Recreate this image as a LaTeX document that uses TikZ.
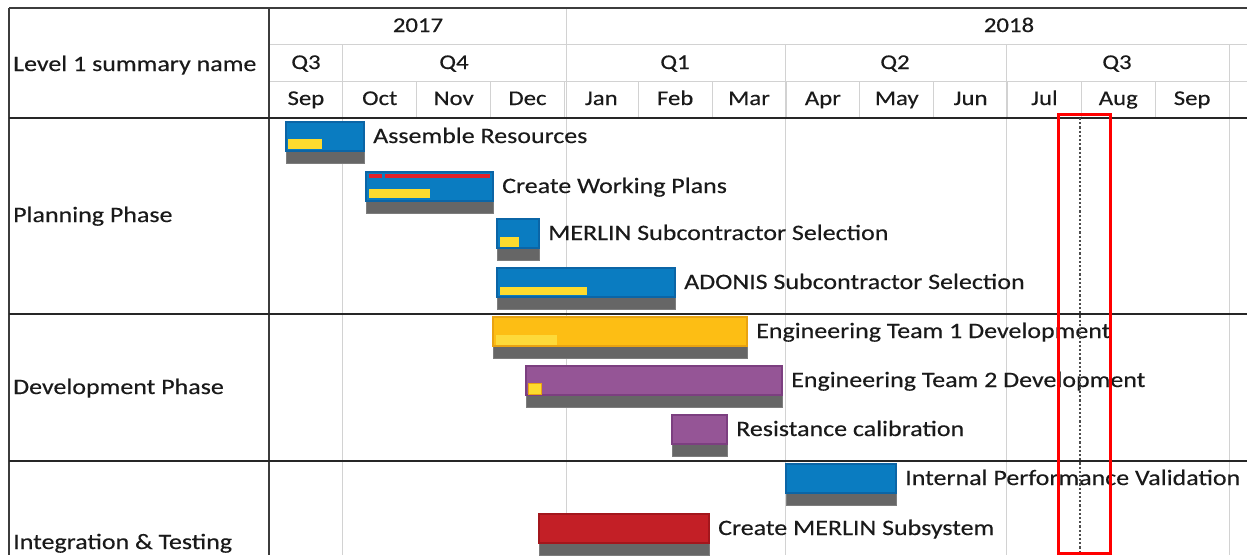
\documentclass[tikz,border=0pt]{standalone}
\usepackage{fontspec}
\setmainfont{Carlito}[FakeStretch=1.18, FakeBold=0.3]
\definecolor{framegray}{HTML}{3C3C3C}
\definecolor{gridgray}{HTML}{D2D2D2}
\definecolor{basegray}{HTML}{666666}
\definecolor{dotgray}{HTML}{4D4D4D}
\definecolor{inkgray}{HTML}{1A1A1A}
\definecolor{taskblue}{HTML}{0A7CC1}
\definecolor{edgeblue}{HTML}{0B65A6}
\definecolor{progyellow}{HTML}{FDDB2E}
\definecolor{taskorange}{HTML}{FDBE14}
\definecolor{edgeorange}{HTML}{E9A311}
\definecolor{progpale}{HTML}{FDDA3A}
\definecolor{taskpurple}{HTML}{955596}
\definecolor{edgepurple}{HTML}{7C3F80}
\definecolor{taskred}{HTML}{C31F26}
\definecolor{edgered}{HTML}{A3161C}
\definecolor{slipred}{HTML}{E0202A}
\definecolor{markred}{HTML}{FF0000}

\tikzset{
  gridline/.style={draw=gridgray, line width=0.8pt},
  frameline/.style={draw=framegray, line width=1.3pt},
  phaseline/.style={draw=black!85, line width=2.2pt},
  txt/.style={inner sep=0pt, text depth=0pt, text=inkgray},
  hdr/.style={txt, anchor=base, font=\fontsize{21}{25}\selectfont},
  lbl/.style={txt, anchor=base west, font=\fontsize{22}{26}\selectfont},
  progress/.style={fill=progyellow},
}

% one task: colored bar, grey base strip, label to the right
% #1 name, #2 start x, #3 end x, #4 top y, #5 fill, #6 edge, #7 text
\newcommand\ganttbar[7]{%
  \path[draw=basegray!85!white, fill=basegray, line width=0.6pt]
    (#2,{#4+29}) rectangle (#3,{#4+41});
  \path[draw=#6, fill=#5, line width=1.2pt] (#2,#4) rectangle (#3,{#4+29});
  \node[lbl] (#1) at ({#3+9},{#4+21}) {#7};
}

\begin{document}
\begin{tikzpicture}[x=1pt, y=-1pt]
\useasboundingbox (0,0) rectangle (1247,555);
\fill[white] (0,0) rectangle (1247,555);

% ---- header grid ----
\path[gridline] (269,44.5) -- (1247,44.5) (269,81.5) -- (1247,81.5);
% year row
\path[gridline] (566,8) -- (566,44.5);
% quarter row
\foreach \q in {342,566,785,1006,1229} \path[gridline] (\q,44.5) -- (\q,118);
% month row
\foreach \m in {1,...,13} \path[gridline] ({269+73.85*\m},81.5) -- ({269+73.85*\m},118);

% body grid at quarter boundaries
\foreach \q in {342,566,785,1006,1229} \path[gridline] (\q,118) -- (\q,555);

% ---- frame ----
\path[frameline] (9,8) -- (1247,8);
\path[frameline] (9,8) -- (9,555);
\path[frameline] (269,8) -- (269,555);
\path[draw=black!85, line width=1.6pt] (9,118) -- (1247,118);
\path[phaseline] (9,314) -- (1247,314);
\path[phaseline] (9,461) -- (1247,461);

% ---- header text ----
\node[lbl] (colname) at (13,71) {Level 1 summary name};
\node[hdr] (y2017) at (418,32) {2017};
\node[hdr] (y2018) at (1009,32) {2018};
\node[hdr] (q3a) at (306,69) {Q3};
\node[hdr] (q4) at (454,69) {Q4};
\node[hdr] (q1) at (675,69) {Q1};
\node[hdr] (q2) at (895,69) {Q2};
\node[hdr] (q3b) at (1117,69) {Q3};
\foreach \mo [count=\i from 0] in {Sep,Oct,Nov,Dec,Jan,Feb,Mar,Apr,May,Jun,Jul,Aug,Sep}
  \node[hdr] (month\i) at ({269+73.85*(\i+0.5)},105) {\mo};

% ---- phase names ----
\node[lbl] (planning) at (13,222) {Planning Phase};
\node[lbl] (development) at (13,394) {Development Phase};
\node[lbl] (integration) at (13,549) {Integration \& Testing};

% ---- tasks ----
\ganttbar{assemble}{286}{364}{122}{taskblue}{edgeblue}{Assemble Resources}
\fill[progress] (288,139) rectangle (322,149);

\ganttbar{plans}{366}{493}{172}{taskblue}{edgeblue}{Create Working Plans}
\fill[slipred] (369,174) rectangle (382,177.5);
\fill[slipred] (385,174) rectangle (490,177.5);
\fill[progress] (369,189) rectangle (430,198);

\ganttbar{merlinsel}{497}{539}{219}{taskblue}{edgeblue}{MERLIN Subcontractor Selection}
\fill[progress] (499.5,237) rectangle (519,247);

\ganttbar{adonissel}{497}{675}{268}{taskblue}{edgeblue}{ADONIS Subcontractor Selection}
\fill[progress] (499.5,287) rectangle (587,295);

\ganttbar{team1}{493}{747}{317}{taskorange}{edgeorange}{Engineering Team 1 Development}
\fill[progpale] (495.5,335) rectangle (557,345);

\ganttbar{team2}{526}{782}{366}{taskpurple}{edgepurple}{Engineering Team 2 Development}
\fill[progress, draw=edgeorange, line width=0.5pt] (528.5,383) rectangle (541,394);

\ganttbar{resist}{672}{727}{415}{taskpurple}{edgepurple}{Resistance calibration}

\ganttbar{validation}{786}{896}{464}{taskblue}{edgeblue}{Internal Performance Validation}

\ganttbar{subsystem}{539}{709}{514}{taskred}{edgered}{Create MERLIN Subsystem}

% ---- status date marker ----
\coordinate (nowtop) at (1080,118);
\coordinate (nowbot) at (1080,553);
\draw[dotgray, line width=2.4pt, dash pattern=on 2.2pt off 2pt] (nowtop) -- (nowbot);
\draw[markred, line width=3pt] (1058,114) rectangle (1110,553);
\end{tikzpicture}
\end{document}
